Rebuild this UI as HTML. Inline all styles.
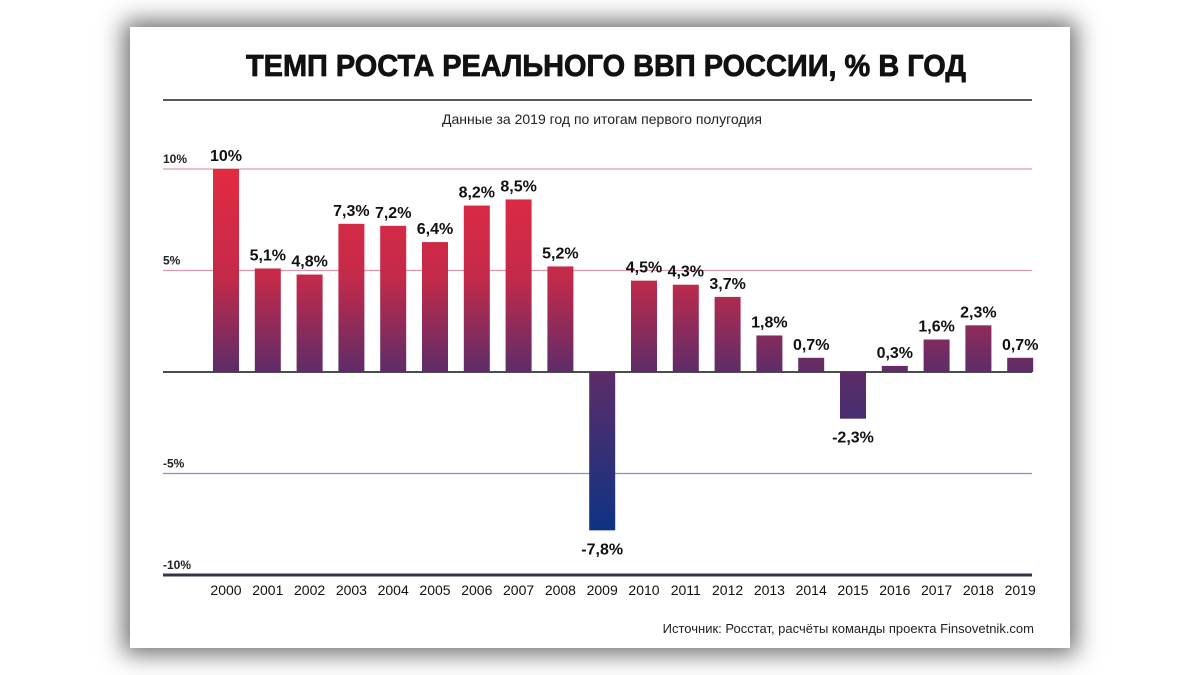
<!DOCTYPE html>
<html><head><meta charset="utf-8"><style>
body{margin:0;width:1200px;height:675px;background:#fff;overflow:hidden;font-family:"Liberation Sans",sans-serif}
#card{position:absolute;left:130px;top:27px;width:940px;height:621px;background:#fff;box-shadow:0 0 22px 6px rgba(60,60,60,.75)}
</style></head><body>
<div id="card"></div>
<svg id="chart" width="1200" height="675" style="position:absolute;left:0;top:0">
<defs><linearGradient id="g" gradientUnits="userSpaceOnUse" x1="0" y1="169" x2="0" y2="530">
<stop offset="0" stop-color="#e32a40"/><stop offset="0.3" stop-color="#c42a4a"/><stop offset="0.56" stop-color="#5e2c68"/><stop offset="1" stop-color="#0e3383"/></linearGradient></defs>
<text x="606" y="76" text-anchor="middle" font-size="31" font-weight="bold" fill="#111" stroke="#111" stroke-width="0.8" textLength="720" lengthAdjust="spacingAndGlyphs">ТЕМП РОСТА РЕАЛЬНОГО ВВП РОССИИ, % В ГОД</text>
<line x1="163" y1="100" x2="1032" y2="100" stroke="#222" stroke-width="1.5"/>
<text x="602" y="124" text-anchor="middle" font-size="14" fill="#222">Данные за 2019 год по итогам первого полугодия</text>
<g id="grid"></g><g id="bars"></g>
<text x="1034" y="633" text-anchor="end" font-size="13" fill="#222">Источник: Росстат, расчёты команды проекта Finsovetnik.com</text>
</svg>
<script>
const years=["2000","2001","2002","2003","2004","2005","2006","2007","2008","2009","2010","2011","2012","2013","2014","2015","2016","2017","2018","2019"];
const growth=[10,5.1,4.8,7.3,7.2,6.4,8.2,8.5,5.2,-7.8,4.5,4.3,3.7,1.8,0.7,-2.3,0.3,1.6,2.3,0.7];
const ticks=[10,5,-5,-10];
const tickLabels=["10%","5%","-5%","-10%"];
const NS="http://www.w3.org/2000/svg";
const y=v=>372-v*20.3;
const x=i=>226+i*41.8;
function mk(t,a,p){const e=document.createElementNS(NS,t);for(const k in a)e.setAttribute(k,a[k]);p.appendChild(e);return e;}
const grid=document.getElementById('grid'),bars=document.getElementById('bars');
ticks.forEach((t,i)=>{
 const l=mk('line',{x1:163,x2:1032,y1:y(t),y2:y(t),stroke:t>0?'#d99aa8':(t==-10?'#33334a':'#8c88e8'),'stroke-width':t==-10?3:1.3},grid);
 
 
 const tx=mk('text',{x:163,y:y(t)-6,'font-size':12,'font-weight':'bold',fill:'#222'},grid);
 tx.textContent=tickLabels[i];
 
 
});
growth.forEach((v,i)=>{
 const top=Math.min(y(v),y(0)),h=Math.abs(y(v)-y(0));
 const r=mk('rect',{x:x(i)-13,y:top,width:26,height:h,fill:'url(#g)'},bars);
 
 
 const lab=mk('text',{x:x(i),y:v>=0?y(v)-8:y(v)+24,'text-anchor':'middle','font-size':16,'font-weight':'bold',fill:'#111'},bars);
 lab.textContent=String(v).replace('.',',')+'%';
 
 
 const yl=mk('text',{x:x(i),y:595,'text-anchor':'middle','font-size':14,fill:'#111'},bars);
 yl.textContent=years[i];
 
 
});
const z=mk('line',{x1:163,x2:1032,y1:y(0),y2:y(0),stroke:'#111','stroke-width':1.5},grid);


</script>
</body></html>
